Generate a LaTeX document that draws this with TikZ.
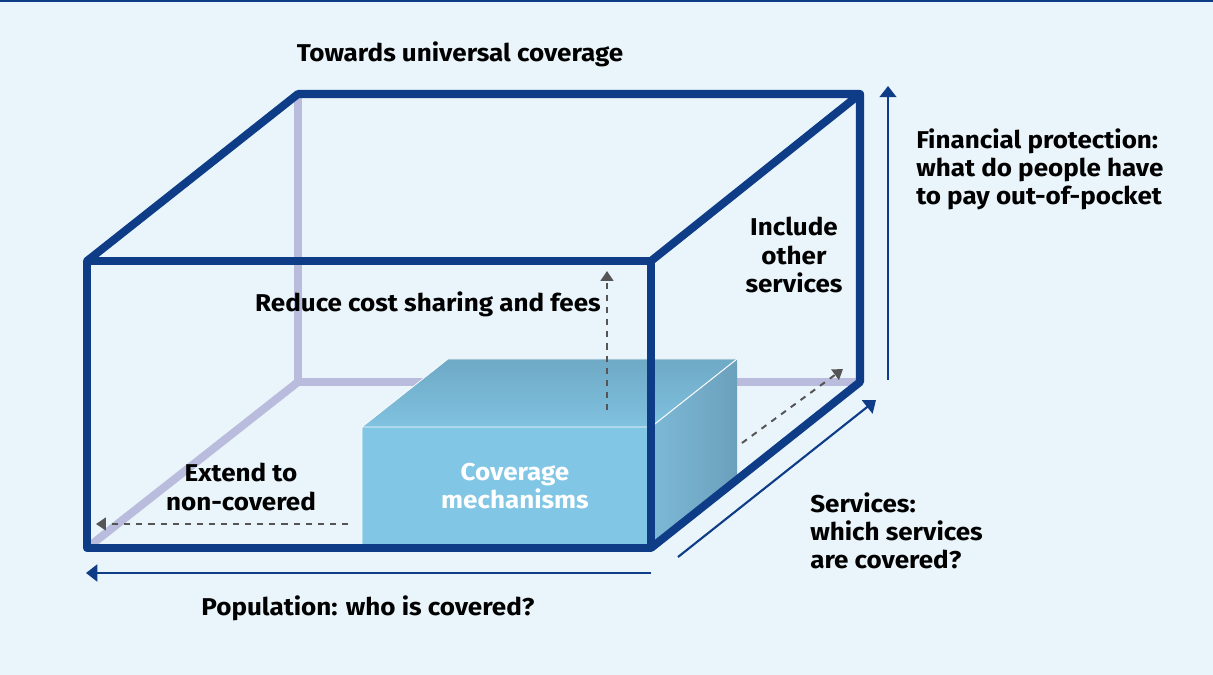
\documentclass[tikz,border=0pt]{standalone}
\usepackage{fontspec}
\setmainfont{Fira Sans}[FakeStretch=1.07]
\usetikzlibrary{arrows.meta}

\definecolor{bgblue}{HTML}{E9F4FB}
\definecolor{frameblue}{HTML}{0E3C87}
\definecolor{hiddenedge}{HTML}{B9BCDC}
\definecolor{dashgray}{HTML}{555555}
\definecolor{boxfront}{HTML}{82C6E6}
\definecolor{boxtopback}{HTML}{6EA9C5}
\definecolor{boxtopfront}{HTML}{80C2E0}
\definecolor{boxsideleft}{HTML}{7DB9D7}
\definecolor{boxsideright}{HTML}{6BA0BC}

\tikzset{
  cubeframe/.style={line width=5.7pt, frameblue, line join=round},
  backedge/.style={line width=5.7pt, hiddenedge},
  dimarrow/.style={line width=1.5pt, frameblue, -{Triangle[length=8pt,width=12pt]}},
  growth/.style={line width=1.4pt, dashgray, dash pattern=on 4.3pt off 4.3pt, -{Triangle[length=7pt,width=9pt]}},
  lbl/.style={font=\bfseries\fontsize{17.3}{20}\selectfont, inner sep=0pt, text=black},
}

\begin{document}
\begin{tikzpicture}[x=0.025cm, y=-0.025cm]
    % Background
    \fill[bgblue] (0,0) rectangle (1213,675);
    \useasboundingbox (0,0) rectangle (1213,675);
    \draw[frameblue, line width=1.4pt] (0,0.7) -- (1213,0.7);

    % Define coordinates
    \coordinate (FTL) at (87,261);
    \coordinate (FTR) at (651,261);
    \coordinate (FBL) at (87,548);
    \coordinate (FBR) at (651,548);
    \coordinate (BTL) at (298,94);
    \coordinate (BTR) at (860,94);
    \coordinate (BBL) at (298,382);
    \coordinate (BBR) at (860,382);

    % Inner box corners
    \coordinate (CTL) at (362,427);
    \coordinate (CTR) at (651,427);
    \coordinate (CBL) at (362,548);
    \coordinate (CBR) at (651,548);
    \coordinate (CTLb) at (448,359);
    \coordinate (CTRb) at (737,359);
    \coordinate (CBRb) at (737,480);

    % Hidden edges
    \draw[backedge] (BTL) -- (BBL) -- (BBR);
    \draw[backedge] (BBL) -- (FBL);

    % Coverage box
    \fill[boxfront] (CBL) rectangle (CTR);
    \shade[top color=boxtopback, bottom color=boxtopfront] (CTL) -- (CTR) -- (CTRb) -- (CTLb) -- cycle;
    \shade[left color=boxsideleft, right color=boxsideright] (CTR) -- (CBR) -- (CBRb) -- (CTRb) -- cycle;
    \draw[white, line width=0.7pt] (CBL) -- (CTL) -- (CTR) -- (CTRb);
    \draw[white, line width=0.5pt] (CTL) -- (CTLb) -- (CTRb);

    % Dashed arrows
    \coordinate (upS) at (607,410);
    \coordinate (upE) at (607,271);
    \coordinate (leftS) at (348,524);
    \coordinate (leftE) at (96,524);
    \coordinate (diagS) at (742,443);
    \coordinate (diagE) at (843,369);
    \draw[growth] (upS) -- (upE);
    \draw[growth] (leftS) -- (leftE);
    \draw[growth] (diagS) -- (diagE);

    % Outer frame
    \draw[cubeframe] (FBL) rectangle (FTR);
    \draw[cubeframe] (FTL) -- (BTL) -- (BTR) -- (FTR);
    \draw[cubeframe] (BTR) -- (BBR) -- (FBR);

    % Dimension arrows
    \coordinate (popS) at (651,573);
    \coordinate (popE) at (86,573);
    \coordinate (servS) at (678,557);
    \coordinate (servE) at (876,400);
    \coordinate (finS) at (888,380);
    \coordinate (finE) at (888,86);
    \draw[dimarrow] (popS) -- (popE);
    \draw[dimarrow] (servS) -- (servE);
    \draw[dimarrow] (finS) -- (finE);

    % Labels
    \node[lbl] (towards) at (460,54) {Towards universal coverage};
    \node[lbl, align=left, anchor=west] (finance) at (916,169) {Financial protection:\\what do people have\\to pay out-of-pocket};
    \node[lbl, align=center] (include) at (794,255) {Include\\other\\services};
    \node[lbl] (reduce) at (428,304) {Reduce cost sharing and fees};
    \node[lbl, align=center] (extend) at (241,487) {Extend to\\non-covered};
    \node[lbl, align=center, text=white] (mechanisms) at (515,486) {Coverage\\mechanisms};
    \node[lbl, align=left, anchor=west] (services) at (810,531) {Services:\\which services\\are covered?};
    \node[lbl] (population) at (368,608) {Population: who is covered?};
\end{tikzpicture}
\end{document}
